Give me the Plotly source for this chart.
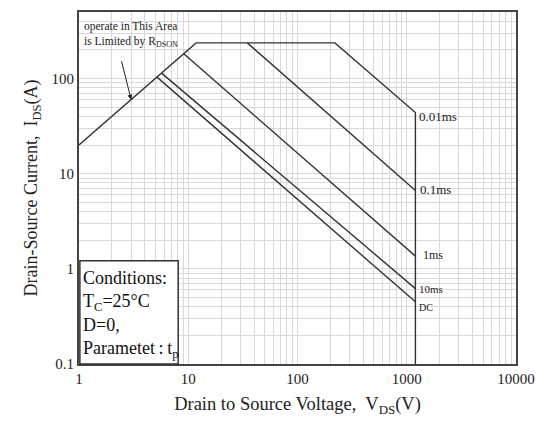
import math
import plotly.graph_objects as go

# Safe operating area curves (drain-source voltage in V, drain current in A)
envelope_v = [1, 11.8, 220, 1200, 1200]      # RDSON limit, current limit, 0.01ms, voltage limit
envelope_i = [20, 237, 237, 44, 0.1]
pulse_01_v = [34.7, 1200]
pulse_01_i = [237, 6.65]
pulse_1_v = [9.1, 1200]
pulse_1_i = [182, 1.36]
pulse_10_v = [5.7, 1200]
pulse_10_i = [114, 0.62]
dc_v = [5.15, 1200]
dc_i = [104, 0.45]

curve_labels = ["0.01ms", "0.1ms", "1ms", "10ms", "DC"]
label_currents = [44, 6.65, 1.36, 0.62, 0.45]
label_v = 1200

# point on the RDSON line the note points at
rdson_note_v = 3.0
rdson_note_i = 60

x_tickvals = [1, 10, 100, 1000, 10000]
x_ticktext = ["1", "10", "100", "1000", "10000"]
y_tickvals = [0.1, 1, 10, 100]
y_ticktext = ["0.1", "1", "10", "100"]

FONT = "Liberation Serif"
LINE = dict(color="#333333", width=1.4)
GRID = "#d9d9d9"

fig = go.Figure()
for xs, ys in [(envelope_v, envelope_i), (pulse_01_v, pulse_01_i), (pulse_1_v, pulse_1_i),
               (pulse_10_v, pulse_10_i), (dc_v, dc_i)]:
    fig.add_trace(go.Scatter(x=xs, y=ys, mode="lines", line=LINE,
                             showlegend=False, hoverinfo="skip"))

# curve labels beside the voltage limit (annotations on log axes take log10 positions)
label_style = {"0.01ms": (13, 4, 2), "0.1ms": (13, -1, 3), "1ms": (12, -1, 6),
               "10ms": (11, 0, 2), "DC": (10, 6, 2)}
for name, cur in zip(curve_labels, label_currents):
    size, shift, xs = label_style[name]
    fig.add_annotation(x=math.log10(label_v), y=math.log10(cur), xref="x", yref="y",
                       text=name, showarrow=False, xanchor="left", yanchor="middle",
                       xshift=xs, yshift=-shift,
                       font=dict(family=FONT, size=size, color="#222"))

# RDSON note with arrow
fig.add_annotation(xref="paper", yref="paper", x=0.008, y=0.983,
                   text="operate in This Area<br>is Limited by R<sub>DSON</sub>",
                   showarrow=False, xanchor="left", yanchor="top", align="left",
                   font=dict(family=FONT, size=11.5, color="#222"))
fig.add_annotation(x=math.log10(rdson_note_v), y=math.log10(rdson_note_i),
                   xref="x", yref="y", text="",
                   showarrow=True, arrowhead=2, arrowsize=1, arrowwidth=1,
                   arrowcolor="#222", ax=-10, ay=-40)

# conditions box
fig.add_shape(type="rect", xref="paper", yref="paper", x0=0.002, x1=0.227,
              y0=0.0, y1=0.293, line=dict(color="#333", width=1.5),
              fillcolor="white", layer="above")
fig.add_annotation(xref="paper", yref="paper", x=0.004, y=0.278,
                   text="Conditions:<br>T<sub>C</sub>=25°C<br>D=0,<br>Parametet\u2009:\u2009t<sub>p</sub>",
                   showarrow=False, xanchor="left", yanchor="top", align="left",
                   font=dict(family=FONT, size=18, color="#111"))

axis_common = dict(type="log", showline=True, linecolor="#444", linewidth=2, mirror=True,
                   showgrid=True, gridcolor=GRID, gridwidth=1, ticks="",
                   tickfont=dict(family=FONT, size=15, color="#222"), zeroline=False,
                   minor=dict(dtick="D1", showgrid=True, gridcolor=GRID, gridwidth=1, ticks=""))

fig.update_xaxes(range=[0, 4], tickvals=x_tickvals, ticktext=x_ticktext,
                 title=dict(text="Drain to Source Voltage,  V<sub>DS</sub>(V)",
                            font=dict(family=FONT, size=18.5, color="#222"), standoff=11),
                 **axis_common)
fig.update_yaxes(range=[-1, 2.699], tickvals=y_tickvals, ticktext=y_ticktext,
                 title=dict(text="Drain-Source Current,  I<sub>DS</sub>(A)",
                            font=dict(family=FONT, size=18, color="#222"), standoff=9),
                 **axis_common)

fig.update_layout(width=545, height=421, margin=dict(l=79, r=22, t=10, b=53),
                  plot_bgcolor="white", paper_bgcolor="white",
                  font=dict(family=FONT, color="#222"))

fig.write_html("out.html")
